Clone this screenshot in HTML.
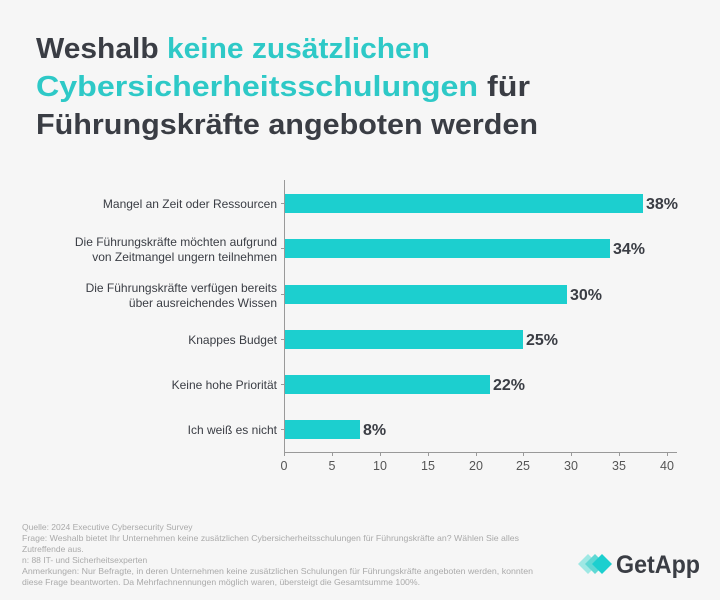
<!DOCTYPE html>
<html><head><meta charset="utf-8"><style>
body{margin:0;background:#f6f6f6;}
svg{display:block;font-family:"Liberation Sans",sans-serif;}
</style></head><body>
<svg width="720" height="600" viewBox="0 0 720 600">
<rect width="720" height="600" fill="#f6f6f6"/>
<g font-size="29" font-weight="bold" fill="#3a3d44">
<text x="36" y="58" textLength="394" lengthAdjust="spacingAndGlyphs">Weshalb <tspan fill="#2ec9c7">keine zusätzlichen</tspan></text>
<text x="36" y="96" textLength="494" lengthAdjust="spacingAndGlyphs"><tspan fill="#2ec9c7">Cybersicherheitsschulungen</tspan> für</text>
<text x="36" y="134" textLength="502" lengthAdjust="spacingAndGlyphs">Führungskräfte angeboten werden</text>
</g>
<line x1="284.5" y1="180" x2="284.5" y2="452" stroke="#999" stroke-width="1"/>
<line x1="284" y1="452.5" x2="677" y2="452.5" stroke="#999" stroke-width="1"/>
<g fill="#1ccfcf">
<rect x="285" y="194" width="358" height="19"/>
<rect x="285" y="239" width="325" height="19"/>
<rect x="285" y="285" width="282" height="19"/>
<rect x="285" y="330" width="238" height="19"/>
<rect x="285" y="375" width="205" height="19"/>
<rect x="285" y="420" width="75" height="19"/>
</g>
<g font-size="16" font-weight="bold" fill="#3a3d44">
<text x="646" y="209">38%</text>
<text x="613" y="254">34%</text>
<text x="570" y="300">30%</text>
<text x="526" y="345">25%</text>
<text x="493" y="390">22%</text>
<text x="363" y="435">8%</text>
</g>
<g font-size="12" fill="#3a3d44" text-anchor="end">
<text x="277" y="208">Mangel an Zeit oder Ressourcen</text>
<text x="277" y="246">Die Führungskräfte möchten aufgrund</text>
<text x="277" y="261">von Zeitmangel ungern teilnehmen</text>
<text x="277" y="292">Die Führungskräfte verfügen bereits</text>
<text x="277" y="307">über ausreichendes Wissen</text>
<text x="277" y="344">Knappes Budget</text>
<text x="277" y="389">Keine hohe Priorität</text>
<text x="277" y="434">Ich weiß es nicht</text>
</g>
<g stroke="#999">
<line x1="281" y1="203.5" x2="284" y2="203.5"/><line x1="281" y1="248.5" x2="284" y2="248.5"/><line x1="281" y1="294.5" x2="284" y2="294.5"/><line x1="281" y1="339.5" x2="284" y2="339.5"/><line x1="281" y1="384.5" x2="284" y2="384.5"/><line x1="281" y1="429.5" x2="284" y2="429.5"/>
<line x1="284.5" y1="452" x2="284.5" y2="456"/><line x1="332.5" y1="452" x2="332.5" y2="456"/><line x1="380.5" y1="452" x2="380.5" y2="456"/><line x1="428.5" y1="452" x2="428.5" y2="456"/><line x1="476.5" y1="452" x2="476.5" y2="456"/><line x1="523.5" y1="452" x2="523.5" y2="456"/><line x1="571.5" y1="452" x2="571.5" y2="456"/><line x1="619.5" y1="452" x2="619.5" y2="456"/><line x1="667.5" y1="452" x2="667.5" y2="456"/>
</g>
<g font-size="12.5" fill="#555" text-anchor="middle">
<text x="284" y="470">0</text><text x="332" y="470">5</text><text x="380" y="470">10</text><text x="428" y="470">15</text><text x="476" y="470">20</text><text x="523" y="470">25</text><text x="571" y="470">30</text><text x="619" y="470">35</text><text x="667" y="470">40</text>
</g>
<g font-size="8.5" fill="#aaa">
<text x="22" y="530">Quelle: 2024 Executive Cybersecurity Survey</text>
<text x="22" y="541" textLength="497" lengthAdjust="spacingAndGlyphs">Frage: Weshalb bietet Ihr Unternehmen keine zusätzlichen Cybersicherheitsschulungen für Führungskräfte an? Wählen Sie alles</text>
<text x="22" y="552">Zutreffende aus.</text>
<text x="22" y="563">n: 88 IT- und Sicherheitsexperten</text>
<text x="22" y="574" textLength="511" lengthAdjust="spacingAndGlyphs">Anmerkungen: Nur Befragte, in deren Unternehmen keine zusätzlichen Schulungen für Führungskräfte angeboten werden, konnten</text>
<text x="22" y="585" textLength="398" lengthAdjust="spacingAndGlyphs">diese Frage beantworten. Da Mehrfachnennungen möglich waren, übersteigt die Gesamtsumme 100%.</text>
</g>
<g>
<polygon points="578,564 588,554 598,564 588,574" fill="#9ee8e4"/>
<polygon points="585,564 595,554 605,564 595,574" fill="#5fd8d4"/>
<polygon points="592,564 602,554 612,564 602,574" fill="#1ccfcf"/>
<text x="616" y="573" font-size="25" font-weight="bold" fill="#3a3d44" textLength="84" lengthAdjust="spacingAndGlyphs">GetApp</text>
</g>
</svg>
</body></html>
